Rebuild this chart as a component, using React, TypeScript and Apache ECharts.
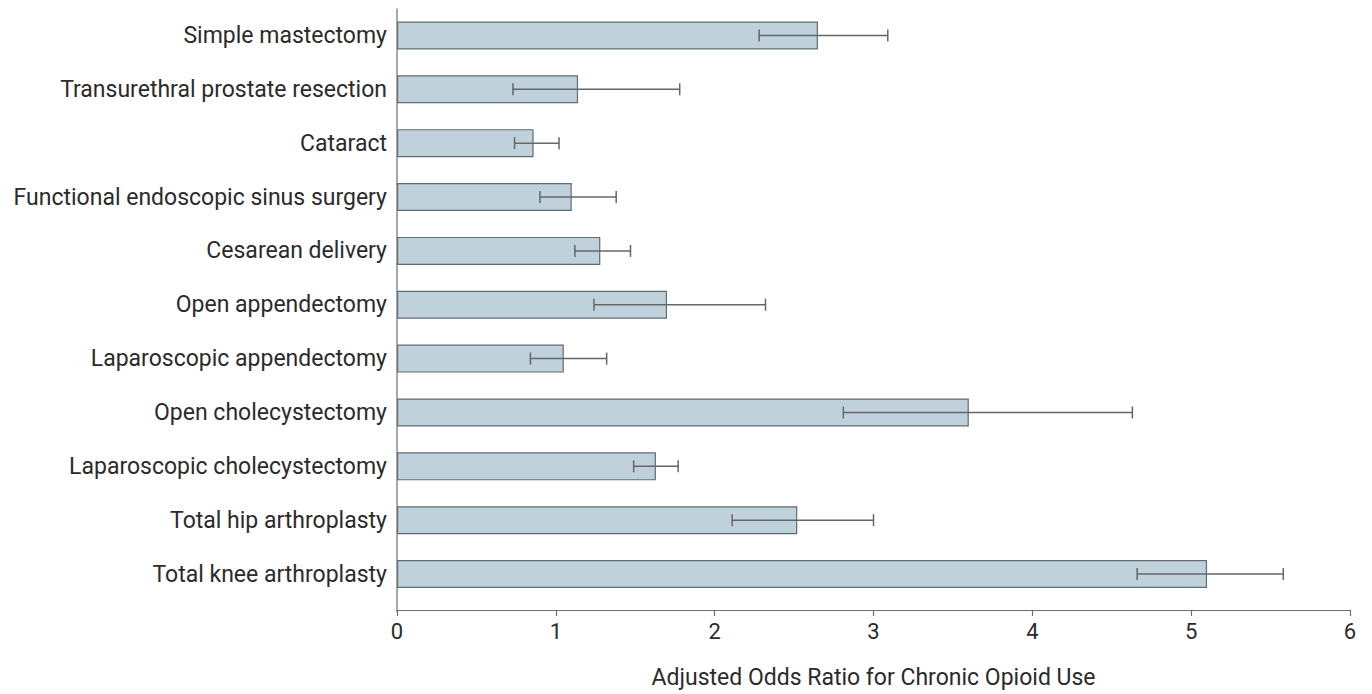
import React, { useEffect, useRef } from "react";
import * as echarts from "echarts";

const categories = [
  "Simple mastectomy",
  "Transurethral prostate resection",
  "Cataract",
  "Functional endoscopic sinus surgery",
  "Cesarean delivery",
  "Open appendectomy",
  "Laparoscopic appendectomy",
  "Open cholecystectomy",
  "Laparoscopic cholecystectomy",
  "Total hip arthroplasty",
  "Total knee arthroplasty",
];
const oddsRatio = [2.65, 1.14, 0.86, 1.1, 1.28, 1.7, 1.05, 3.6, 1.63, 2.52, 5.1];
const ciLower = [2.28, 0.73, 0.74, 0.9, 1.12, 1.24, 0.84, 2.81, 1.49, 2.11, 4.66];
const ciUpper = [3.09, 1.78, 1.02, 1.38, 1.47, 2.32, 1.32, 4.63, 1.77, 3.0, 5.58];
const xTicks = [0, 1, 2, 3, 4, 5, 6];
const axisTitle = "Adjusted Odds Ratio for Chronic Opioid Use";

const FONT = "Roboto, 'Noto Sans', sans-serif";
const TEXT = "#2b2b2b";

export default function App() {
  const ref = useRef<HTMLDivElement>(null);
  useEffect(() => {
    if (!ref.current) return;
    const chart = echarts.init(ref.current, undefined, { renderer: "svg" });
    const gridLeft = 397;
    const gridTop = 8.5;
    const gridBottom = 91;
    const axisOffset = 9;
    chart.setOption({
      animation: false,
      backgroundColor: "#ffffff",
      textStyle: { fontFamily: FONT },
      grid: { left: gridLeft, right: 22, top: gridTop, bottom: gridBottom, containLabel: false },
      xAxis: {
        type: "value",
        min: xTicks[0],
        max: xTicks[xTicks.length - 1],
        interval: 1,
        offset: axisOffset,
        axisLine: { show: true, lineStyle: { color: "#6e6e6e", width: 1.2 } },
        axisTick: { show: true, length: 6, lineStyle: { color: "#6e6e6e", width: 1.2 } },
        splitLine: { show: false },
        axisLabel: { fontSize: 22, color: TEXT, margin: 10, fontFamily: FONT },
        name: axisTitle,
        nameLocation: "middle",
        nameGap: 56,
        nameTextStyle: { fontSize: 23, color: TEXT, fontFamily: FONT },
      },
      yAxis: {
        type: "category",
        data: categories,
        inverse: true,
        axisLine: { show: false },
        axisTick: { show: false },
        axisLabel: { fontSize: 23, color: TEXT, margin: 10, fontFamily: FONT },
      },
      graphic: [
        {
          type: "line",
          shape: { x1: gridLeft, y1: gridTop, x2: gridLeft, y2: 694 - gridBottom + axisOffset },
          style: { stroke: "#6e6e6e", lineWidth: 1.2 },
          z: 10,
        },
      ],
      series: [
        {
          type: "bar",
          data: oddsRatio,
          barWidth: 28,
          itemStyle: { color: "#bfd2dc", borderColor: "#5e6c73", borderWidth: 1.2 },
        },
        {
          type: "custom",
          data: categories.map((_, i) => [ciLower[i], ciUpper[i], i]),
          encode: { x: [0, 1], y: 2 },
          z: 5,
          renderItem: (params: any, api: any) => {
            const lo = api.coord([api.value(0), api.value(2)]);
            const hi = api.coord([api.value(1), api.value(2)]);
            const h = 6;
            const style = { stroke: "#666666", lineWidth: 1.5, fill: "none" };
            return {
              type: "group",
              children: [
                { type: "line", shape: { x1: lo[0], y1: lo[1], x2: hi[0], y2: hi[1] }, style },
                { type: "line", shape: { x1: lo[0], y1: lo[1] - h, x2: lo[0], y2: lo[1] + h }, style },
                { type: "line", shape: { x1: hi[0], y1: hi[1] - h, x2: hi[0], y2: hi[1] + h }, style },
              ],
            };
          },
        },
      ],
    });
    return () => chart.dispose();
  }, []);
  return (
    <div
      ref={ref}
      style={{ position: "fixed", left: 0, top: 0, width: 1372, height: 694 }}
    />
  );
}
